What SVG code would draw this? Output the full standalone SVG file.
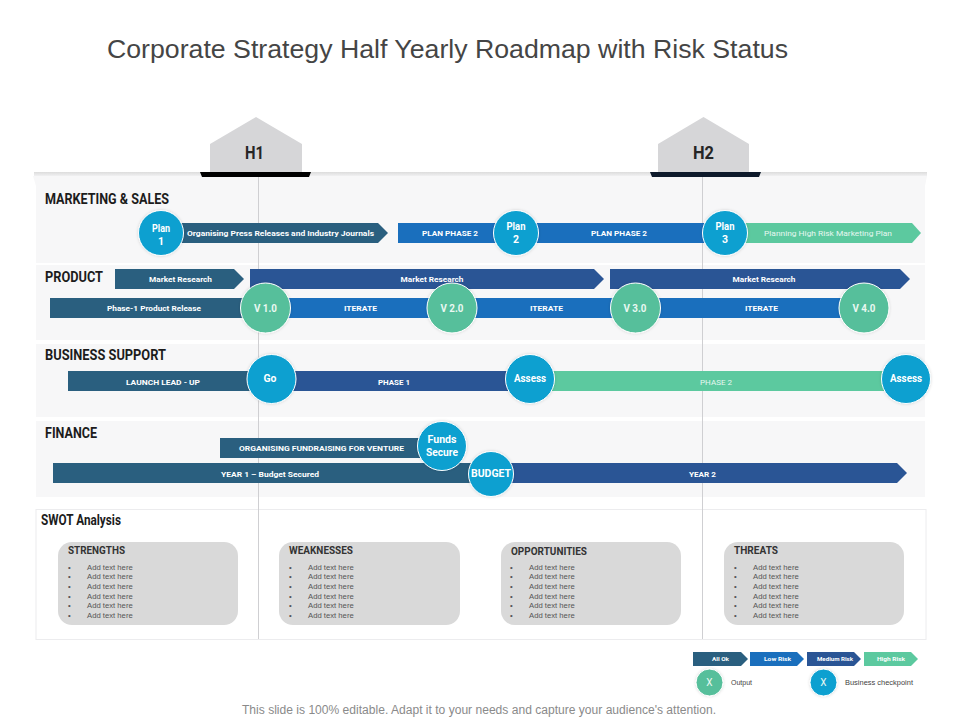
<svg xmlns="http://www.w3.org/2000/svg" width="960" height="720" viewBox="0 0 960 720">
<style>
text{font-family:"Roboto","Liberation Sans",sans-serif}
.m{text-anchor:middle}
.title{font-family:"Liberation Sans",Arial,sans-serif;font-size:26px;fill:#454545}
.foot{font-family:"Liberation Sans",Arial,sans-serif;font-size:12px;fill:#8a8a8a}
.h{font-size:19px;font-weight:700;fill:#262626}
.row{font-size:14px;font-weight:700;fill:#1c1c1c}
.bar{font-size:8px;font-weight:700;fill:#fff}
.lite{font-size:8px;font-weight:400;fill:#e6f7f0}
.cir{font-size:10.5px;font-weight:700;fill:#fff}
.ver{font-size:11px;font-weight:700;fill:#e9f8f2}
.card{font-size:10.5px;font-weight:700;fill:#333}
.li{font-family:"Liberation Sans",Arial,sans-serif;font-size:7.7px;fill:#555}
.leg{font-size:6px;font-weight:700;fill:#fff}
.ltx{font-family:"Liberation Sans",Arial,sans-serif;font-size:7px;fill:#444}
.panel{fill:#f7f7f8}
.teal{fill:#2a5f7f}.blue{fill:#1a6fbd}.navy{fill:#2a5595}.green{fill:#5cc99f}
.cb{fill:#0aa0d0;stroke:#fff;stroke-width:1;filter:url(#s)}
.cg{fill:#57bf9b;stroke:#fff;stroke-width:1;filter:url(#s)}
.cardbg{fill:#d9d9d9}
.house{fill:#d6d6d8}
.vline{stroke:#cfcfd2;stroke-width:1}
</style>
<defs>
<filter id="s" x="-20%" y="-20%" width="140%" height="140%"><feDropShadow dx="0" dy="0" stdDeviation="1.5" flood-color="#000" flood-opacity="0.15"/></filter>
<linearGradient id="band" x1="0" y1="0" x2="0" y2="1"><stop offset="0" stop-color="#dcdcdc"/><stop offset="1" stop-color="#f3f3f4"/></linearGradient>
</defs>
<rect width="960" height="720" fill="#fff"/>
<text class="title" x="107" y="58" textLength="681" lengthAdjust="spacingAndGlyphs">Corporate Strategy Half Yearly Roadmap with Risk Status</text>

<g id="panels">
<rect x="34" y="172" width="893" height="4.5" fill="url(#band)"/>
<path class="panel" d="M33 176H927L925 186V263H36V186Z"/>
<rect class="panel" x="36" y="265" width="889" height="75"/>
<rect class="panel" x="36" y="344" width="889" height="73"/>
<rect class="panel" x="36" y="421" width="889" height="76"/>
<rect x="36" y="509.500" width="890" height="130" fill="#fff" stroke="#ececee" stroke-width="1"/>
</g>

<g id="connectors">
<line class="vline" x1="258.500" y1="177" x2="258.500" y2="639"/>
<line class="vline" x1="702.500" y1="177" x2="702.500" y2="639"/>
</g>

<g id="h1"><path class="house" d="M210 172V144L256 117L302 144V172Z"/><path d="M200 172H311L309 177H202Z" fill="#000"/><text class="h m" x="254.500" y="159" textLength="19" lengthAdjust="spacingAndGlyphs">H1</text></g>
<g id="h2"><path class="house" d="M658 172V144L703.500 117L749 144V172Z"/><path d="M650 172H761L759 177H652Z" fill="#0e1a2b"/><text class="h m" x="703.500" y="159" textLength="21" lengthAdjust="spacingAndGlyphs">H2</text></g>

<g id="marketing">
<text class="row" x="45" y="204" textLength="124" lengthAdjust="spacingAndGlyphs">MARKETING &amp; SALES</text>
<path class="teal" d="M175 223H378L388 233L378 243H175Z"/>
<text class="bar m" x="280.500" y="236" textLength="187" lengthAdjust="spacingAndGlyphs">Organising Press Releases and Industry Journals</text>
<rect class="blue" x="398" y="223" width="310" height="20"/>
<text class="bar m" x="450" y="236" textLength="56" lengthAdjust="spacingAndGlyphs">PLAN PHASE 2</text>
<text class="bar m" x="619" y="236" textLength="56" lengthAdjust="spacingAndGlyphs">PLAN PHASE 2</text>
<path class="green" d="M740 223H912L921 233L912 243H740Z"/>
<text class="lite m" x="828" y="236" textLength="128" lengthAdjust="spacingAndGlyphs">Planning High Risk Marketing Plan</text>
</g>
<g id="plan1"><circle class="cb" cx="161" cy="233" r="22.500"/><text class="cir m" x="161" y="232" textLength="18" lengthAdjust="spacingAndGlyphs">Plan</text><text class="cir m" x="161" y="245">1</text></g>
<g id="plan2"><circle class="cb" cx="516" cy="233" r="22.500"/><text class="cir m" x="516" y="230" textLength="19" lengthAdjust="spacingAndGlyphs">Plan</text><text class="cir m" x="516" y="243">2</text></g>
<g id="plan3"><circle class="cb" cx="725" cy="233" r="22.500"/><text class="cir m" x="725" y="230" textLength="19" lengthAdjust="spacingAndGlyphs">Plan</text><text class="cir m" x="725" y="243">3</text></g>

<g id="product">
<text class="row" x="45" y="282" textLength="58" lengthAdjust="spacingAndGlyphs">PRODUCT</text>
<path class="teal" d="M115 269H234L244 279L234 289H115Z"/>
<text class="bar m" x="180.500" y="282" textLength="63" lengthAdjust="spacingAndGlyphs">Market Research</text>
<path class="navy" d="M250 269H594L604 279L594 289H250Z"/>
<text class="bar m" x="432" y="282" textLength="63" lengthAdjust="spacingAndGlyphs">Market Research</text>
<path class="navy" d="M610 269H900L910 279L900 289H610Z"/>
<text class="bar m" x="764" y="282" textLength="63" lengthAdjust="spacingAndGlyphs">Market Research</text>
<rect class="teal" x="50" y="298" width="195" height="20"/>
<text class="bar m" x="154" y="311" textLength="94" lengthAdjust="spacingAndGlyphs">Phase-1 Product Release</text>
<rect class="blue" x="245" y="298" width="605" height="20"/>
<text class="bar m" x="360.500" y="311" textLength="33" lengthAdjust="spacingAndGlyphs">ITERATE</text>
<text class="bar m" x="546.500" y="311" textLength="33" lengthAdjust="spacingAndGlyphs">ITERATE</text>
<text class="bar m" x="761.500" y="311" textLength="33" lengthAdjust="spacingAndGlyphs">ITERATE</text>
</g>
<g id="v1"><circle class="cg" cx="265.500" cy="308" r="25"/><text class="ver m" x="265.500" y="312" textLength="23" lengthAdjust="spacingAndGlyphs">V 1.0</text></g>
<g id="v2"><circle class="cg" cx="452" cy="308" r="25"/><text class="ver m" x="452" y="312" textLength="23" lengthAdjust="spacingAndGlyphs">V 2.0</text></g>
<g id="v3"><circle class="cg" cx="635.500" cy="308" r="25"/><text class="ver m" x="635" y="312" textLength="23" lengthAdjust="spacingAndGlyphs">V 3.0</text></g>
<g id="v4"><circle class="cg" cx="864" cy="308" r="25"/><text class="ver m" x="864" y="312" textLength="23" lengthAdjust="spacingAndGlyphs">V 4.0</text></g>

<g id="business">
<text class="row" x="45" y="360" textLength="121" lengthAdjust="spacingAndGlyphs">BUSINESS SUPPORT</text>
<rect class="teal" x="68" y="371" width="185" height="20"/>
<text class="bar m" x="163" y="385" textLength="74" lengthAdjust="spacingAndGlyphs">LAUNCH LEAD - UP</text>
<rect class="navy" x="290" y="371" width="220" height="20"/>
<text class="bar m" x="394" y="385" textLength="32" lengthAdjust="spacingAndGlyphs">PHASE 1</text>
<rect class="green" x="550" y="371" width="335" height="20"/>
<text class="lite m" x="716" y="385" textLength="32" lengthAdjust="spacingAndGlyphs">PHASE 2</text>
</g>
<g id="go"><circle class="cb" cx="271.500" cy="379" r="24.500"/><text class="cir m" x="270" y="382" textLength="13" lengthAdjust="spacingAndGlyphs">Go</text></g>
<g id="assess1"><circle class="cb" cx="530" cy="379" r="24.500"/><text class="cir m" x="530" y="382" textLength="32" lengthAdjust="spacingAndGlyphs">Assess</text></g>
<g id="assess2"><circle class="cb" cx="906" cy="379" r="24.500"/><text class="cir m" x="906" y="382" textLength="32" lengthAdjust="spacingAndGlyphs">Assess</text></g>

<g id="finance">
<text class="row" x="45" y="438" textLength="52" lengthAdjust="spacingAndGlyphs">FINANCE</text>
<rect class="teal" x="220" y="438" width="205" height="20"/>
<text class="bar m" x="321.500" y="451" textLength="165" lengthAdjust="spacingAndGlyphs">ORGANISING FUNDRAISING FOR VENTURE</text>
<rect class="teal" x="53" y="463" width="425" height="20"/>
<text class="bar m" x="270" y="477" textLength="98" lengthAdjust="spacingAndGlyphs">YEAR 1 – Budget Secured</text>
<path class="navy" d="M505 463H897L907 473L897 483H505Z"/>
<text class="bar m" x="702.500" y="477" textLength="27" lengthAdjust="spacingAndGlyphs">YEAR 2</text>
</g>
<g id="funds"><circle class="cb" cx="442" cy="446" r="24.500"/><text class="cir m" x="442" y="443" textLength="29" lengthAdjust="spacingAndGlyphs">Funds</text><text class="cir m" x="442" y="456" textLength="32" lengthAdjust="spacingAndGlyphs">Secure</text></g>
<g id="budget"><circle class="cb" cx="491" cy="474" r="22.500"/><text class="cir m" x="491" y="477" textLength="40" lengthAdjust="spacingAndGlyphs">BUDGET</text></g>

<text class="row" x="41" y="525" textLength="80" lengthAdjust="spacingAndGlyphs">SWOT Analysis</text>

<g id="strengths"><rect class="cardbg" x="58" y="542" width="180" height="83" rx="14"/>
<text class="card" x="68" y="554" textLength="57" lengthAdjust="spacingAndGlyphs">STRENGTHS</text>
<text class="li" x="68" y="570">•</text><text class="li" x="87" y="570">Add text here</text>
<text class="li" x="68" y="579">•</text><text class="li" x="87" y="579">Add text here</text>
<text class="li" x="68" y="589">•</text><text class="li" x="87" y="589">Add text here</text>
<text class="li" x="68" y="599">•</text><text class="li" x="87" y="599">Add text here</text>
<text class="li" x="68" y="608">•</text><text class="li" x="87" y="608">Add text here</text>
<text class="li" x="68" y="618">•</text><text class="li" x="87" y="618">Add text here</text></g>
<g id="weaknesses"><rect class="cardbg" x="279" y="542" width="181" height="83" rx="14"/>
<text class="card" x="289" y="554" textLength="64" lengthAdjust="spacingAndGlyphs">WEAKNESSES</text>
<text class="li" x="289" y="570">•</text><text class="li" x="308" y="570">Add text here</text>
<text class="li" x="289" y="579">•</text><text class="li" x="308" y="579">Add text here</text>
<text class="li" x="289" y="589">•</text><text class="li" x="308" y="589">Add text here</text>
<text class="li" x="289" y="599">•</text><text class="li" x="308" y="599">Add text here</text>
<text class="li" x="289" y="608">•</text><text class="li" x="308" y="608">Add text here</text>
<text class="li" x="289" y="618">•</text><text class="li" x="308" y="618">Add text here</text></g>
<g id="opportunities"><rect class="cardbg" x="501" y="542" width="180" height="83" rx="14"/>
<text class="card" x="511" y="555" textLength="76" lengthAdjust="spacingAndGlyphs">OPPORTUNITIES</text>
<text class="li" x="510" y="570">•</text><text class="li" x="529" y="570">Add text here</text>
<text class="li" x="510" y="579">•</text><text class="li" x="529" y="579">Add text here</text>
<text class="li" x="510" y="589">•</text><text class="li" x="529" y="589">Add text here</text>
<text class="li" x="510" y="599">•</text><text class="li" x="529" y="599">Add text here</text>
<text class="li" x="510" y="608">•</text><text class="li" x="529" y="608">Add text here</text>
<text class="li" x="510" y="618">•</text><text class="li" x="529" y="618">Add text here</text></g>
<g id="threats"><rect class="cardbg" x="724" y="542" width="180" height="83" rx="14"/>
<text class="card" x="734" y="554" textLength="44" lengthAdjust="spacingAndGlyphs">THREATS</text>
<text class="li" x="734" y="570">•</text><text class="li" x="753" y="570">Add text here</text>
<text class="li" x="734" y="579">•</text><text class="li" x="753" y="579">Add text here</text>
<text class="li" x="734" y="589">•</text><text class="li" x="753" y="589">Add text here</text>
<text class="li" x="734" y="599">•</text><text class="li" x="753" y="599">Add text here</text>
<text class="li" x="734" y="608">•</text><text class="li" x="753" y="608">Add text here</text>
<text class="li" x="734" y="618">•</text><text class="li" x="753" y="618">Add text here</text></g>

<g id="legend">
<path class="teal" d="M693 652H741L748 659L741 666H693Z"/><text class="leg m" x="720.500" y="661" textLength="17" lengthAdjust="spacingAndGlyphs">All Ok</text>
<path class="blue" d="M750 652H797L804 659L797 666H750Z"/><text class="leg m" x="777.500" y="661" textLength="27" lengthAdjust="spacingAndGlyphs">Low Risk</text>
<path class="navy" d="M807 652H854L861 659L854 666H807Z"/><text class="leg m" x="835" y="661" textLength="36" lengthAdjust="spacingAndGlyphs">Medium Risk</text>
<path class="green" d="M864 652H911L918 659L911 666H864Z"/><text class="leg m" x="891" y="661" textLength="28" lengthAdjust="spacingAndGlyphs">High Risk</text>
<circle class="cg" cx="709.500" cy="682.500" r="13.500"/><text class="m" x="709.500" y="686" font-size="10" fill="#e9f8f2">X</text>
<text class="ltx" x="731" y="684.500" textLength="21" lengthAdjust="spacingAndGlyphs">Output</text>
<circle class="cb" cx="823.500" cy="682.500" r="13.500"/><text class="m" x="823.500" y="686" font-size="10" fill="#e9f8f2">X</text>
<text class="ltx" x="845" y="684.500" textLength="68" lengthAdjust="spacingAndGlyphs">Business checkpoint</text>
</g>

<text class="foot" x="242" y="714" textLength="474" lengthAdjust="spacingAndGlyphs">This slide is 100% editable. Adapt it to your needs and capture your audience's attention.</text>
</svg>
